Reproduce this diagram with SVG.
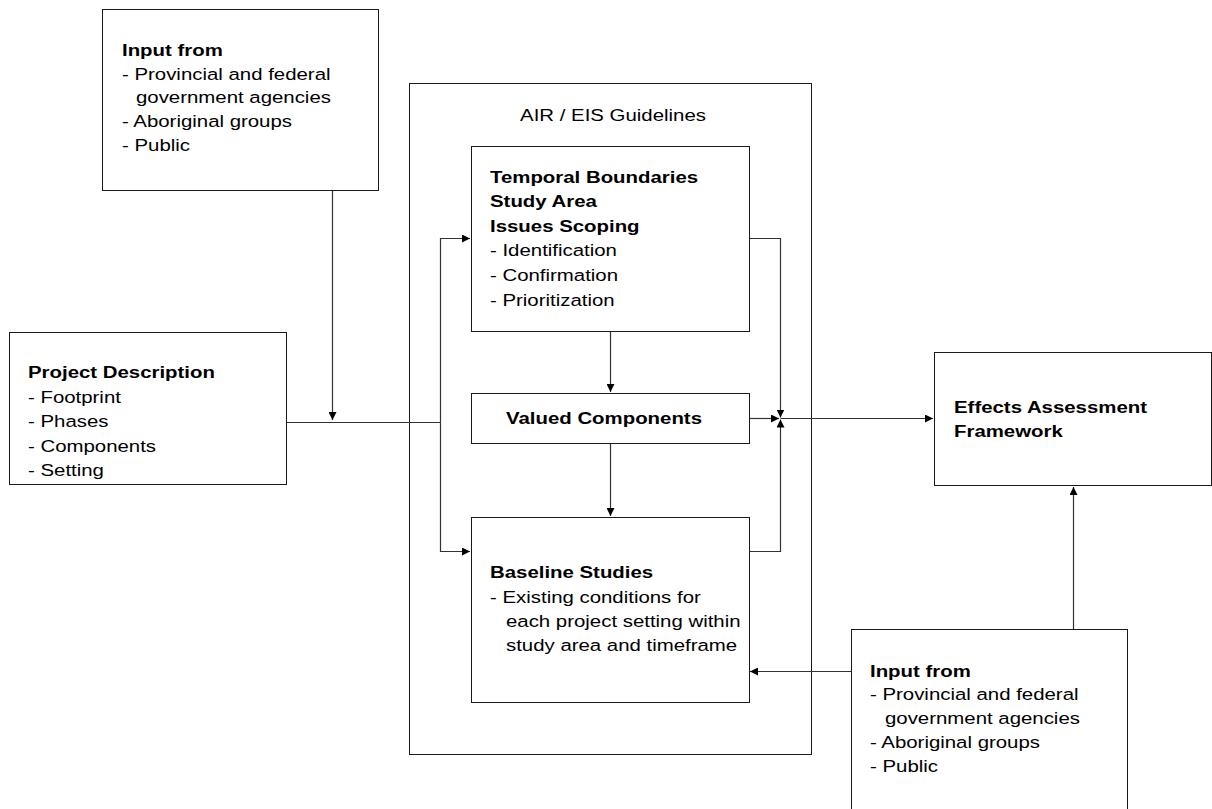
<svg xmlns="http://www.w3.org/2000/svg" width="1212" height="809" viewBox="0 0 1212 809">
<style>
.box{fill:#fff;stroke:#1a1a1a;stroke-width:1}
.t{font-family:"Liberation Sans",Arial,sans-serif;font-size:17px;fill:#000;transform-box:fill-box;transform-origin:0 100%;transform:scaleX(1.2)}
.m{transform-origin:50% 100%}
.b{font-weight:bold}
.c{fill:none;stroke:#333;stroke-width:1.2}
</style>
<defs>
<marker id="ah" viewBox="0 0 10 10" refX="10" refY="5" markerWidth="8" markerHeight="8" markerUnits="userSpaceOnUse" orient="auto">
<path d="M0,0 L10,5 L0,10 Z" fill="#000"/>
</marker>
</defs>
<rect width="1212" height="809" fill="#fff"/>

<g id="guidelines">
<rect class="box" x="409.5" y="83.5" width="402" height="671"/>
<text class="t m" x="613" y="121" text-anchor="middle">AIR / EIS Guidelines</text>
</g>

<g id="connectors">
<polyline class="c" points="332.5,190 332.5,420" marker-end="url(#ah)"/>
<line class="c" x1="286" y1="422.5" x2="440.5" y2="422.5"/>
<polyline class="c" points="440.5,422.5 440.5,238.5 470,238.5" marker-end="url(#ah)"/>
<polyline class="c" points="440.5,422.5 440.5,551.5 470,551.5" marker-end="url(#ah)"/>
<line class="c" x1="610.5" y1="331" x2="610.5" y2="392" marker-end="url(#ah)"/>
<line class="c" x1="610.5" y1="443" x2="610.5" y2="516" marker-end="url(#ah)"/>
<line class="c" x1="749" y1="418.5" x2="779" y2="418.5" marker-end="url(#ah)"/>
<polyline class="c" points="749,238.5 780.5,238.5 780.5,417.5" marker-end="url(#ah)"/>
<polyline class="c" points="749,551.5 780.5,551.5 780.5,419.5" marker-end="url(#ah)"/>
<line class="c" x1="780.5" y1="418.5" x2="933" y2="418.5" marker-end="url(#ah)"/>
<line class="c" x1="1073.5" y1="629" x2="1073.5" y2="487" marker-end="url(#ah)"/>
<line class="c" x1="851" y1="671.5" x2="750" y2="671.5" marker-end="url(#ah)"/>
</g>

<g id="input-top">
<rect class="box" x="102.5" y="9.5" width="276" height="181"/>
<text class="t b" x="122" y="56">Input from</text>
<text class="t" x="122" y="80">- Provincial and federal</text>
<text class="t" x="136" y="103.5">government agencies</text>
<text class="t" x="122" y="127.5">- Aboriginal groups</text>
<text class="t" x="122" y="151">- Public</text>
</g>

<g id="project-description">
<rect class="box" x="9.5" y="332.5" width="277" height="152"/>
<text class="t b" x="28" y="378.5">Project Description</text>
<text class="t" x="28" y="403">- Footprint</text>
<text class="t" x="28" y="427.5">- Phases</text>
<text class="t" x="28" y="452">- Components</text>
<text class="t" x="28" y="476.5">- Setting</text>
</g>

<g id="temporal">
<rect class="box" x="471.5" y="146.5" width="278" height="185"/>
<text class="t b" x="490" y="183.5">Temporal Boundaries</text>
<text class="t b" x="490" y="207.5">Study Area</text>
<text class="t b" x="490" y="232">Issues Scoping</text>
<text class="t" x="490" y="256.5">- Identification</text>
<text class="t" x="490" y="281">- Confirmation</text>
<text class="t" x="490" y="306">- Prioritization</text>
</g>

<g id="valued">
<rect class="box" x="471.5" y="393.5" width="278" height="50"/>
<text class="t b m" x="604" y="424" text-anchor="middle">Valued Components</text>
</g>

<g id="baseline">
<rect class="box" x="471.5" y="517.5" width="278" height="185"/>
<text class="t b" x="490" y="578.5">Baseline Studies</text>
<text class="t" x="490" y="603">- Existing conditions for</text>
<text class="t" x="506" y="627">each project setting within</text>
<text class="t" x="506" y="651.5">study area and timeframe</text>
</g>

<g id="effects">
<rect class="box" x="934.5" y="352.5" width="277" height="133"/>
<text class="t b" x="954" y="413">Effects Assessment</text>
<text class="t b" x="954" y="437">Framework</text>
</g>

<g id="input-bottom">
<rect class="box" x="851.5" y="629.5" width="276" height="200"/>
<text class="t b" x="870" y="677">Input from</text>
<text class="t" x="870" y="700.5">- Provincial and federal</text>
<text class="t" x="885" y="724.5">government agencies</text>
<text class="t" x="870" y="748.5">- Aboriginal groups</text>
<text class="t" x="870" y="772.5">- Public</text>
</g>
</svg>
